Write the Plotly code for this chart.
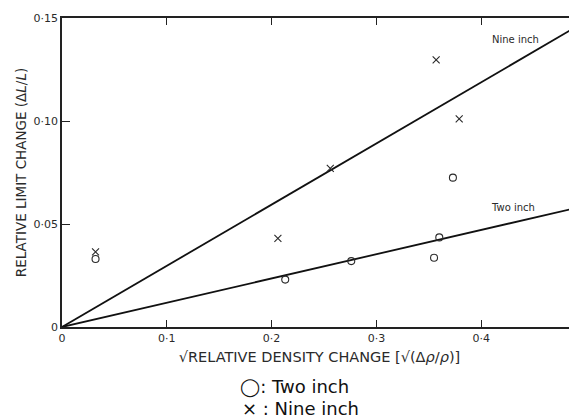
import plotly.graph_objects as go

# Data
two_x = [0.032, 0.213, 0.276, 0.355, 0.360, 0.373, 0.4915]
two_y = [0.033, 0.023, 0.032, 0.0336, 0.0435, 0.0725, 0.051]
nine_x = [0.032, 0.206, 0.256, 0.357, 0.379, 0.4915]
nine_y = [0.0365, 0.043, 0.077, 0.1297, 0.101, 0.1005]

fit_x = [0.0, 0.5]
nine_fit = [0.0, 0.1485]
two_fit = [0.0, 0.0589]

x_ticks = [0, 0.1, 0.2, 0.3, 0.4]
x_labels = ["0", "0·1", "0·2", "0·3", "0·4"]
y_ticks = [0, 0.05, 0.10, 0.15]
y_labels = ["0", "0·05", "0·10", "0·15"]

ink = "#2a2a2a"
font = "DejaVu Sans"

fig = go.Figure()
fig.add_trace(go.Scatter(x=fit_x, y=nine_fit, mode="lines",
                         line=dict(color="#111", width=1.8), showlegend=False))
fig.add_trace(go.Scatter(x=fit_x, y=two_fit, mode="lines",
                         line=dict(color="#111", width=1.8), showlegend=False))
fig.add_trace(go.Scatter(x=two_x, y=two_y, mode="markers",
                         marker=dict(symbol="circle-open", size=7,
                                     color=ink, line=dict(width=1.1, color=ink)),
                         showlegend=False))
fig.add_trace(go.Scatter(x=nine_x, y=nine_y, mode="markers",
                         marker=dict(symbol="x-thin-open", size=7,
                                     color=ink, line=dict(width=1.1, color=ink)),
                         showlegend=False))

fig.add_annotation(x=0.4327, y=0.1394, xref="x", yref="y", text="Nine inch",
                   showarrow=False, font=dict(family=font, size=10, color=ink))
fig.add_annotation(x=0.430, y=0.0582, xref="x", yref="y", text="Two inch",
                   showarrow=False, font=dict(family=font, size=10, color=ink))

# the page body has an 8px margin, so the figure is sized to the visible area
fig.update_layout(
    width=569, height=411,
    margin=dict(l=54, r=0, t=10, b=92),
    paper_bgcolor="white", plot_bgcolor="white",
    font=dict(family=font, color=ink),
    xaxis=dict(range=[0, 0.4914], tickvals=x_ticks, ticktext=x_labels,
               automargin=False,
               showgrid=False, zeroline=False, showline=True, linecolor="#222",
               linewidth=1.6, mirror="ticks", ticks="inside", ticklen=7,
               tickcolor="#222", tickwidth=1.2,
               tickfont=dict(family=font, size=11, color=ink),
               title=dict(text="√RELATIVE DENSITY CHANGE [√(Δ<i>ρ</i>/<i>ρ</i>)]",
                          font=dict(family=font, size=14.5, color=ink), standoff=8)),
    yaxis=dict(range=[0, 0.15], tickvals=y_ticks, ticktext=y_labels,
               automargin=False,
               showgrid=False, zeroline=False, showline=True, linecolor="#222",
               linewidth=1.6, mirror=False, ticks="inside", ticklen=8,
               tickcolor="#222", tickwidth=1.2,
               tickfont=dict(family=font, size=11, color=ink),
               title=dict(text="RELATIVE LIMIT CHANGE (Δ<i>L</i>/<i>L</i>)",
                          font=dict(family=font, size=13.5, color=ink), standoff=4)),
)

fig.add_annotation(x=0.452, y=-0.194, xref="paper", yref="paper",
                   text="◯: Two inch", showarrow=False, xanchor="center", yanchor="middle",
                   font=dict(family=font, size=18, color="#111"))
fig.add_annotation(x=0.464, y=-0.265, xref="paper", yref="paper",
                   text="× : Nine inch", showarrow=False, xanchor="center", yanchor="middle",
                   font=dict(family=font, size=18, color="#111"))

fig.write_html("out.html")
